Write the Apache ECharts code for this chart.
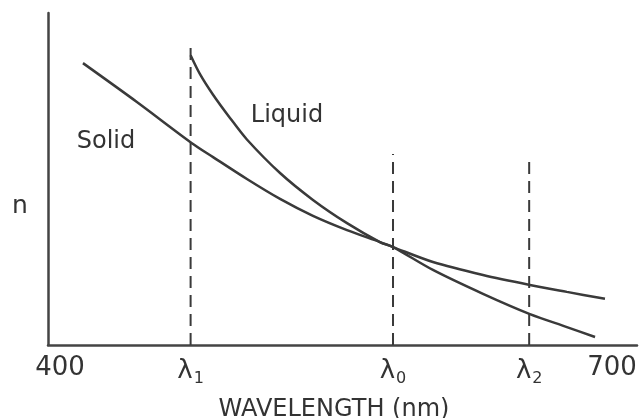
<!DOCTYPE html>
<html>
<head>
<meta charset="utf-8">
<script src="https://cdn.jsdelivr.net/npm/echarts@6/dist/echarts.min.js"></script>
<style>html,body{margin:0;padding:0;background:#fff;}#c{width:639px;height:418px;}</style>
</head>
<body>
<div id="c"></div>
<script>
// Wavelength (nm) and relative refractive index n (arbitrary units)
const solidX = [412.5, 441.8, 471.7, 483.2, 501.6, 519.6, 537.5, 556.0, 573.9, 581.0, 602.7, 629.9, 655.4, 675.5, 696.2];
const solidN = [84.9, 73.2, 60.8, 56.6, 50.0, 44.0, 38.9, 34.6, 31.0, 29.5, 25.0, 21.1, 18.1, 16.0, 13.9];
const liquidX = [471.0, 476.1, 483.2, 492.4, 501.6, 519.6, 537.5, 556.0, 573.9, 581.0, 602.7, 629.9, 655.4, 675.5, 690.8];
const liquidN = [87.3, 81.6, 75.4, 68.4, 61.9, 51.8, 43.7, 36.7, 31.0, 29.5, 22.6, 15.4, 9.3, 5.4, 2.4];
const tickValues = [400, 471, 581, 655, 700];
const tickLabels = ['400', 'λ|1', 'λ|0', 'λ|2', '700'];
const markerX = [471, 581, 655];
const markerTop = [90.7, 57.5, 55.7];

const ink = '#333333';
const font = 'DejaVu Sans';

const dashSeries = markerX.map((x, i) => ({
  type: 'line',
  data: [[x, 0], [x, markerTop[i]]],
  symbol: 'none',
  silent: true,
  lineStyle: { color: '#3a3a3a', width: 2, type: [12, 7] },
  z: 1
}));

const chart = echarts.init(document.getElementById('c'), null, { renderer: 'canvas' });
chart.setOption({
  animation: false,
  backgroundColor: '#ffffff',
  grid: { left: 48, right: 2, top: 13, bottom: 73, outerBoundsMode: 'none' },
  graphic: [
    { type: 'text', left: 12, top: 194, style: { text: 'n', font: '25px "DejaVu Sans"', fill: ink } }
  ],
  xAxis: {
    type: 'value',
    min: 393.5,
    max: 713.6,
    name: 'WAVELENGTH (nm)',
    nameLocation: 'middle',
    nameGap: 53,
    nameTextStyle: { fontFamily: font, fontSize: 24, color: ink, padding: [0, 17, 0, 0] },
    axisLine: { show: true, onZero: false, lineStyle: { color: '#444', width: 2.5 } },
    axisTick: { show: false },
    splitLine: { show: false },
    axisLabel: {
      customValues: tickValues,
      margin: 10,
      fontFamily: font,
      fontSize: 26,
      color: ink,
      formatter: function (v) {
        const i = tickValues.indexOf(v);
        const t = i >= 0 ? tickLabels[i] : '';
        if (t.indexOf('|') >= 0) {
          const p = t.split('|');
          return '{l|' + p[0] + '}{s|' + p[1] + '}';
        }
        return t;
      },
      rich: {
        l: { fontFamily: font, fontSize: 26, color: ink },
        s: { fontFamily: font, fontSize: 16, color: ink, padding: [16, 0, 0, 1] }
      }
    }
  },
  yAxis: {
    type: 'value',
    min: 0,
    max: 100,
    axisLine: { show: true, onZero: false, lineStyle: { color: '#444', width: 2.5 } },
    axisTick: { show: false },
    axisLabel: { show: false },
    splitLine: { show: false }
  },
  series: [
    {
      name: 'Solid',
      type: 'line',
      data: solidX.map((x, i) => [x, solidN[i]]),
      smooth: 0.3,
      symbol: 'none',
      lineStyle: { color: '#3a3a3a', width: 2.5 },
      z: 3,
      markPoint: {
        symbol: 'circle', symbolSize: 0,
        label: { show: true, position: 'inside', formatter: 'Solid', fontFamily: font, fontSize: 24, color: ink },
        data: [{ coord: [425, 61.1] }]
      }
    },
    {
      name: 'Liquid',
      type: 'line',
      data: liquidX.map((x, i) => [x, liquidN[i]]),
      smooth: 0.3,
      symbol: 'none',
      lineStyle: { color: '#3a3a3a', width: 2.5 },
      z: 3,
      markPoint: {
        symbol: 'circle', symbolSize: 0,
        label: { show: true, position: 'inside', formatter: 'Liquid', fontFamily: font, fontSize: 24, color: ink },
        data: [{ coord: [523.4, 69.0] }]
      }
    }
  ].concat(dashSeries)
});
</script>
</body>
</html>
